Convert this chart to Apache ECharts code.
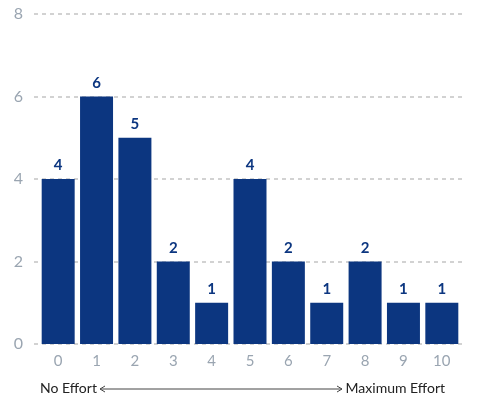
<!DOCTYPE html>
<html>
<head>
<meta charset="utf-8">
<script src="https://cdn.jsdelivr.net/npm/echarts@6/dist/echarts.min.js"></script>
<style>
  html, body { margin: 0; padding: 0; background: #fff; }
  #chart { width: 477px; height: 398px; }
</style>
</head>
<body>
<div id="chart"></div>
<script>
// Effort ratings 0–10 and number of responses for each
const categories = ['0', '1', '2', '3', '4', '5', '6', '7', '8', '9', '10'];
const counts = [4, 6, 5, 2, 1, 4, 2, 1, 2, 1, 1];
const yTicks = [0, 2, 4, 6, 8];

const barColor = '#0c3680';
const tickColor = '#9aa5b1';
const fontFamily = 'Lato, "Open Sans", sans-serif';

const chart = echarts.init(document.getElementById('chart'));

chart.setOption({
  animation: false,
  backgroundColor: '#fff',
  grid: [
    // bars
    { left: 39, right: 16, top: 14, bottom: 54 },
    // wider grid carrying the dashed gridlines and y labels
    { left: 34, right: 12, top: 14, bottom: 54 }
  ],
  xAxis: [
    {
      type: 'category',
      gridIndex: 0,
      data: categories,
      axisLine: { show: false },
      axisTick: { show: false },
      axisLabel: { color: tickColor, fontSize: 15, fontFamily, margin: 10 }
    },
    {
      type: 'value',
      gridIndex: 1,
      show: false,
      min: 0,
      max: 1
    }
  ],
  yAxis: [
    {
      type: 'value',
      gridIndex: 0,
      min: yTicks[0],
      max: yTicks[yTicks.length - 1],
      interval: 2,
      show: false
    },
    {
      type: 'value',
      gridIndex: 1,
      min: yTicks[0],
      max: yTicks[yTicks.length - 1],
      interval: 2,
      axisLine: { show: false },
      axisTick: { show: false },
      axisLabel: { color: tickColor, fontSize: 16, fontFamily, margin: 11 },
      splitLine: {
        show: true,
        lineStyle: { color: '#c4c4c4', type: [4, 4], width: 1.5 }
      }
    }
  ],
  series: [
    {
      type: 'bar',
      xAxisIndex: 0,
      yAxisIndex: 0,
      data: counts,
      barCategoryGap: '14%',
      itemStyle: { color: barColor },
      z: 3,
      label: {
        show: true,
        position: 'top',
        distance: 6,
        color: barColor,
        fontSize: 15,
        fontWeight: 'bold',
        fontFamily
      }
    }
  ],
  graphic: [
    {
      type: 'text',
      left: 40,
      top: 381,
      style: { text: 'No Effort', fill: '#222', font: '14px ' + fontFamily }
    },
    {
      type: 'text',
      right: 32,
      top: 381,
      style: { text: 'Maximum Effort', fill: '#222', font: '14px ' + fontFamily }
    },
    {
      type: 'line',
      shape: { x1: 100, y1: 389, x2: 342, y2: 389 },
      style: { stroke: '#444', lineWidth: 1 }
    },
    {
      type: 'polyline',
      shape: { points: [[105, 386], [100, 389], [105, 392]] },
      style: { stroke: '#444', lineWidth: 1, fill: null }
    },
    {
      type: 'polyline',
      shape: { points: [[337, 386], [342, 389], [337, 392]] },
      style: { stroke: '#444', lineWidth: 1, fill: null }
    }
  ]
});
</script>
</body>
</html>
